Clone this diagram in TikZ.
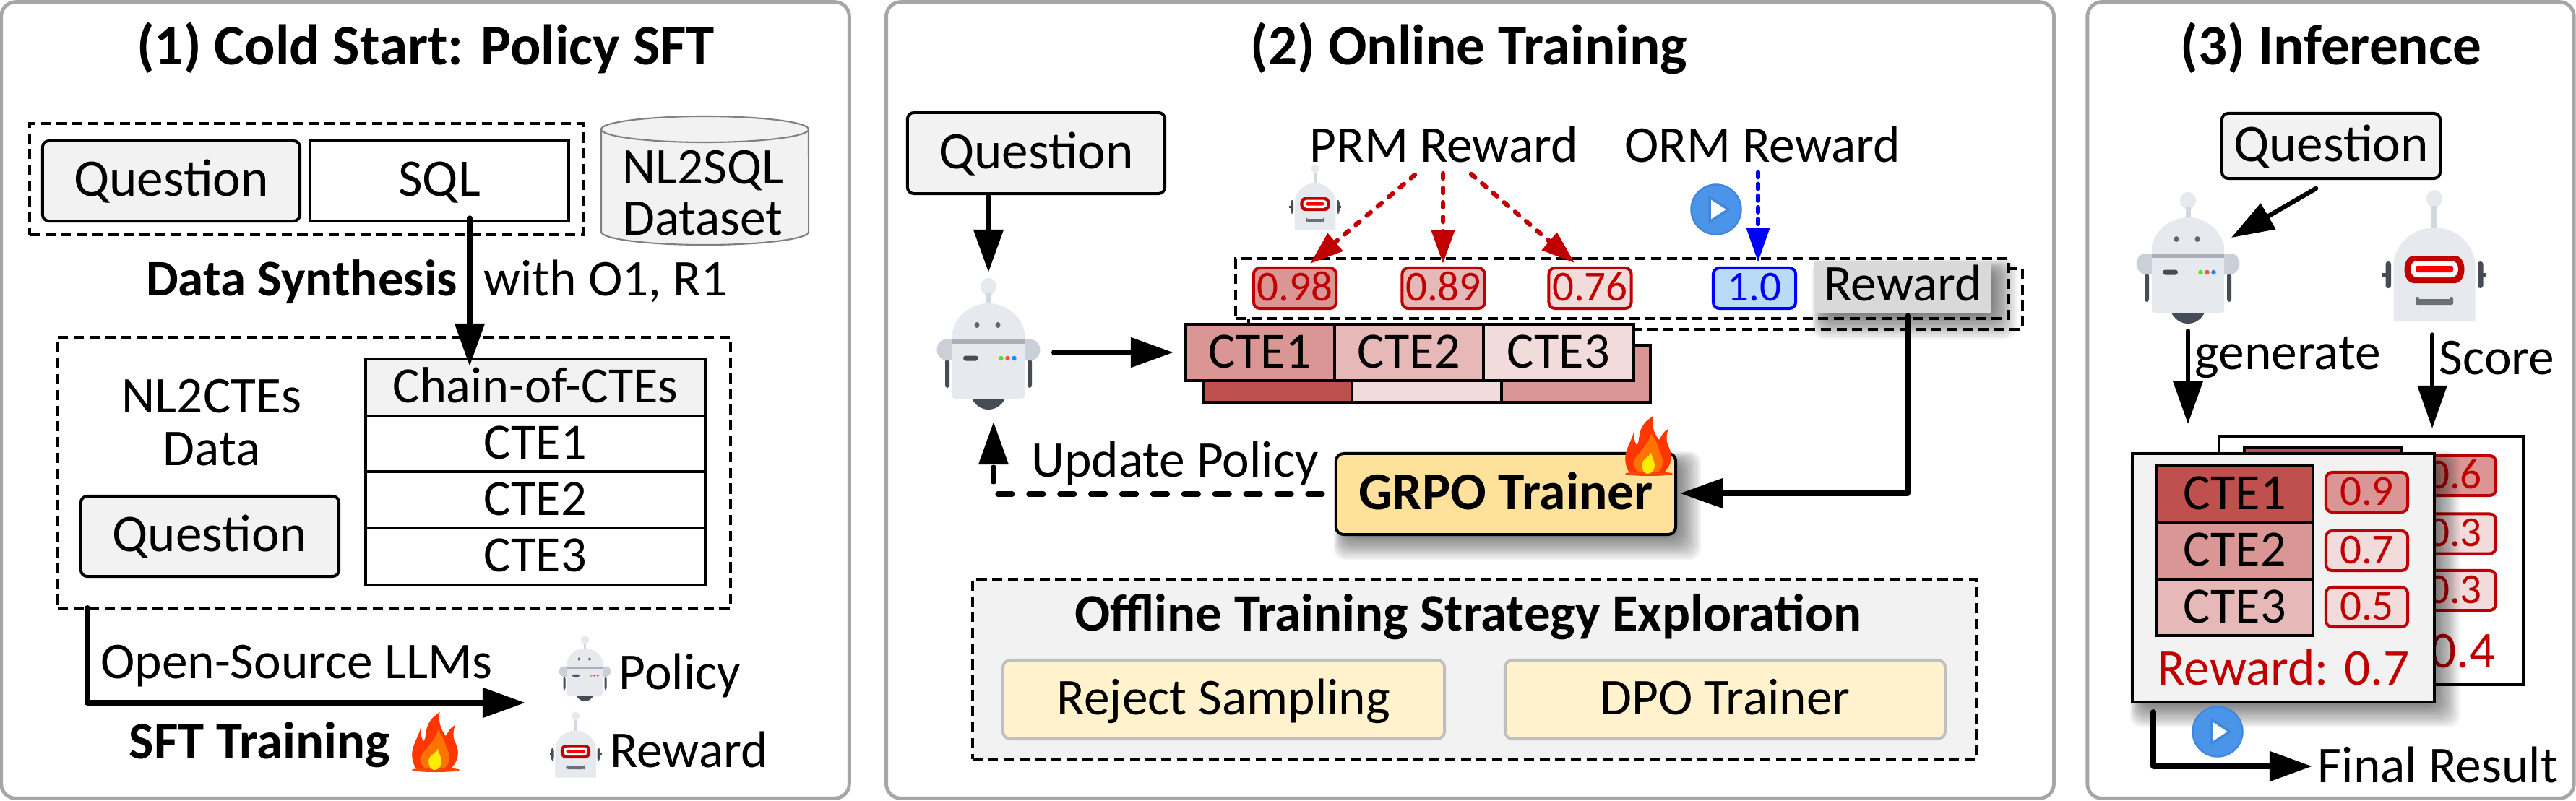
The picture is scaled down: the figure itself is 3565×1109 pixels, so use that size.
\documentclass[tikz,border=0pt]{standalone}
\usepackage{fontspec}
\setmainfont{Carlito}
\usetikzlibrary{arrows.meta}
\definecolor{lg}{HTML}{F2F2F2}
\definecolor{cA}{HTML}{C0504D}
\definecolor{cB}{HTML}{D99694}
\definecolor{cC}{HTML}{E6B9B8}
\definecolor{cD}{HTML}{F2DCDB}
\definecolor{rd}{HTML}{C00000}
\definecolor{rbody}{HTML}{E6E9EE}
\definecolor{rstem}{HTML}{D3D7DE}
\definecolor{rshou}{HTML}{CBCFD8}
\definecolor{rstrip}{HTML}{A9B0BC}
\definecolor{rdark}{HTML}{464C56}
\definecolor{playc}{HTML}{4A95EA}
\definecolor{playd}{HTML}{4187DB}
\definecolor{grpoc}{HTML}{FEE29B}
\definecolor{creamc}{HTML}{FFF2CC}
\definecolor{chipb}{HTML}{B8DCF5}
\newcommand\fsz[1]{\fontsize{#1}{#1}\selectfont}
\newcommand\softshadow[4]{%
  \foreach \e in {35,32,...,2}{%
    \fill[black,opacity=.05,rounded corners=4.5pt]
      ({#1-3+(35-\e)*.5},{#2-3+(35-\e)*.5}) rectangle ({#3+\e},{#4+\e});}}
\newcommand\robotP[3]{%
  \begin{scope}[shift={(#1,#2)},scale=#3]
    \fill[rbody] (0,11.8) ellipse [x radius=.11cm,y radius=.12cm];
    \fill[rstem] (-3.5,21) rectangle (3.5,37);
    \fill[rdark,rounded corners=1pt] (-60,112) rectangle (-54,152);
    \fill[rdark,rounded corners=1pt] (54,112) rectangle (60,152);
    \fill[rshou] (-49,85) -- (-58,85) .. controls (-67,85) and (-71.5,92) .. (-71.5,99) .. controls (-71.5,107) and (-65,114) .. (-58,114) -- (-49,114) -- cycle;
    \fill[rshou] (49,85) -- (58,85) .. controls (67,85) and (71.5,92) .. (71.5,99) .. controls (71.5,107) and (65,114) .. (58,114) -- (49,114) -- cycle;
    \fill[rdark] (-24,165) .. controls (-18,178) and (-8,182) .. (0,182) .. controls (8,182) and (18,178) .. (24,165) -- cycle;
    \fill[rbody] (-50,86) -- (-50,80) .. controls (-50,55) and (-25,35) .. (0,35) .. controls (25,35) and (50,55) .. (50,80) -- (50,86) -- cycle;
    \fill[rbody,rounded corners=1.2pt] (-50,70) rectangle (50,167);
    \fill[rstrip] (-50,85) rectangle (50,91);
    \fill[rdark!85] (-16,65) ellipse [x radius=.035cm,y radius=.04cm];
    \fill[rdark!85] (13,65) ellipse [x radius=.035cm,y radius=.04cm];
    \fill[rdark,rounded corners=1pt] (-35,107.5) rectangle (-14,114.5);
    \fill[green!50!lime!70!gray] (17.5,111) circle [radius=.033cm];
    \fill[red!70!white] (26.5,111) circle [radius=.033cm];
    \fill[blue!50!cyan!90!white] (35.5,111) circle [radius=.033cm];
  \end{scope}}
\newcommand\robotR[3]{%
  \begin{scope}[shift={(#1,#2)},scale=#3]
    \fill[rbody] (0,11) ellipse [x radius=.11cm,y radius=.12cm];
    \fill[rstem] (-4,21) rectangle (4,54);
    \fill[rdark,rounded corners=1pt] (-67.5,98) rectangle (-60,135);
    \fill[rdark,rounded corners=1pt] (60,98) rectangle (67.5,135);
    \fill[rdark] (-72,114) rectangle (-66,120);
    \fill[rdark] (66,114) rectangle (72,120);
    \fill[rbody] (-56.5,181) -- (-56.5,104) .. controls (-56.5,75) and (-30,51) .. (0,51) .. controls (30,51) and (56.5,75) .. (56.5,104) -- (56.5,181) -- cycle;
    \fill[rd] (-28,90) -- (28,90) .. controls (36,90) and (41.5,98) .. (41.5,109) .. controls (41.5,120) and (36,128) .. (28,128) -- (-28,128) .. controls (-36,128) and (-41.5,120) .. (-41.5,109) .. controls (-41.5,98) and (-36,90) .. (-28,90) -- cycle;
    \fill[white!95!gray] (-24,97) -- (24,97) .. controls (29,97) and (33,102) .. (33,108.5) .. controls (33,115) and (29,120) .. (24,120) -- (-24,120) .. controls (-29,120) and (-33,115) .. (-33,108.5) .. controls (-33,102) and (-29,97) .. (-24,97) -- cycle;
    \fill[red,rounded corners=.8pt] (-26,104) rectangle (26,113);
    \fill[rdark!80,rounded corners=1pt] (-26,150) rectangle (26,158);
    \fill[rdark!80,rounded corners=.6pt] (-26,147) rectangle (-21,158);
    \fill[rdark!80,rounded corners=.6pt] (21,147) rectangle (26,158);
  \end{scope}}
\newcommand\flamepic[2]{%
  \begin{scope}[shift={(#1,#2)}]
    \fill[rd!20!orange!70!red] (33,80) ellipse [x radius=.33cm,y radius=.03cm];
    \fill[orange!25!red!90!yellow] (5,77) .. controls (1,70) and (-1,60) .. (1,52) .. controls (3,42) and (9,34) .. (12,22) .. controls (12,30) and (13,36) .. (16,40) .. controls (20,38) and (18,26) .. (23,16) .. controls (27,8) and (33,4) .. (38.6,0) .. controls (37,10) and (38,22) .. (47,33) .. controls (50,28) and (53,21) .. (60,18) .. controls (56,28) and (57,36) .. (61,44) .. controls (66,55) and (65,68) .. (53,79) -- cycle;
    \fill[orange!90!red] (18,77) .. controls (12,72) and (10,66) .. (12,62) .. controls (15,55) and (21,52) .. (24,46) .. controls (30,38) and (35,32) .. (36,24) .. controls (42,34) and (46,40) .. (48,50) .. controls (55,62) and (52,72) .. (46,77) -- cycle;
    \fill[yellow!95!orange] (36,50) .. controls (35,56) and (23,60) .. (23,68) .. controls (23,75) and (27,80) .. (31,80) .. controls (37,80) and (41,75) .. (41,68) .. controls (41,62) and (37,58) .. (36,50) -- cycle;
  \end{scope}}
\newcommand\playbtn[2]{%
  \begin{scope}[shift={(#1,#2)}]
    \fill[fill=playc,draw=playd,line width=.7pt] (0,0) circle [radius=.345cm];
    \draw[fill=white,draw=playd,line width=1pt,line join=miter] (-9,-17) -- (-9,17) -- (17,0) -- cycle;
  \end{scope}}
\tikzset{
  panel/.style={draw=black!35,line width=1.4pt,rounded corners=5.7pt,inner sep=0pt,outer sep=0pt},
  dbox/.style={draw=black,line width=1.14pt,dash pattern=on 4pt off 2.2pt},
  shp/.style={inner sep=0pt,outer sep=0pt,text height=12pt,text depth=0pt},
  qbox/.style={shp,draw=black,fill=lg,line width=1.14pt,rounded corners=2.5pt,font=\fsz{20.8}},
  sbox/.style={shp,draw=black,fill=white,line width=1.14pt,font=\fsz{20.8}},
  tcell/.style={shp,draw=black,line width=1.14pt,font=\fsz{20}},
  chip/.style={shp,text height=10pt,draw=rd,text=rd,line width=1.14pt,rounded corners=2.4pt,font=\fsz{16.8}},
  lbl/.style={anchor=base,inner sep=0pt,outer sep=0pt,font=\fsz{20.3}},
  ttl/.style={anchor=base,inner sep=0pt,outer sep=0pt,font=\fsz{22.5}\bfseries},
  blbl/.style={anchor=base,inner sep=0pt,outer sep=0pt,font=\fsz{20.7}\bfseries},
  arr/.style={draw=black,line width=2.1pt,line cap=round,-{Triangle[length=.59cm,width=.40cm]}},
  arrt/.style={draw=black,line width=2.3pt,line join=round,line cap=round,-{Triangle[length=.59cm,width=.40cm]}},
  reddash/.style={draw=rd,line width=1.8pt,line cap=round,dash pattern=on 2pt off 3.7pt,-{Triangle[length=.46cm,width=.31cm]}},
  bluedash/.style={draw=blue,line width=1.5pt,line cap=round,dash pattern=on 2.2pt off 2.4pt,-{Triangle[length=.47cm,width=.31cm]}},
}
\begin{document}
\begin{tikzpicture}[x=0.01cm,y=-0.01cm]
\useasboundingbox (0,0) rectangle (3565,1109);
\fill[white] (0,0) rectangle (3565,1109);
% ---------- panels
\node[panel,minimum width=11.73cm,minimum height=11.02cm] (p1) at (588.5,554) {};
\node[panel,minimum width=16.15cm,minimum height=11.02cm] (p2) at (2034.5,554) {};
\node[panel,minimum width=6.73cm,minimum height=11.02cm] (p3) at (3225.5,554) {};
\node[ttl] (t1) at (589,89) {(1) Cold Start: Policy SFT};
\node[ttl] (t2) at (2033,90) {(2) Online Training};
\node[ttl] (t3) at (3226,90) {(3) Inference};
% ---------- panel 1
\node[dbox,minimum width=7.66cm,minimum height=1.54cm,inner sep=0pt] (d1) at (424,248) {};
\node[qbox,minimum width=3.56cm,minimum height=1.11cm] (q1) at (237,250.5) {Question};
\node[sbox,minimum width=3.58cm,minimum height=1.11cm] (sql) at (608,250.5) {SQL};
\fill[lg,draw=black!50,line width=.6pt] (832,179) -- (832,321) arc[start angle=180,end angle=360,x radius=1.435cm,y radius=.18cm] -- (1119,179) arc[start angle=0,end angle=180,x radius=1.435cm,y radius=.18cm] -- cycle;
\draw[black!50,line width=.6pt] (832,179) arc[start angle=180,end angle=360,x radius=1.435cm,y radius=.18cm];
\node[lbl] (ds1) at (973,254) {NL2SQL};
\node[lbl] (ds2) at (973,325) {Dataset};
\node[blbl,font=\fsz{20.2}\bfseries] (ds) at (417.5,409) {Data Synthesis};
\node[lbl] (wo) at (838,409) {with O1, R1};
\node[dbox,minimum width=9.31cm,minimum height=3.75cm,inner sep=0pt] (d2) at (545.5,654.5) {};
\node[tcell,fill=lg,minimum width=4.70cm,minimum height=.79cm] (th) at (741,536.5) {Chain-of-CTEs};
\node[tcell,fill=white,minimum width=4.70cm,minimum height=.77cm] (tr1) at (741,614.5) {CTE1};
\node[tcell,fill=white,minimum width=4.70cm,minimum height=.78cm] (tr2) at (741,692) {CTE2};
\node[tcell,fill=white,minimum width=4.70cm,minimum height=.79cm] (tr3) at (741,770.5) {CTE3};
\node[lbl] (nc1) at (293,571) {NL2CTEs};
\node[lbl] (nc2) at (293,644) {Data};
\node[qbox,minimum width=3.57cm,minimum height=1.11cm] (q2) at (290.5,742.5) {Question};
\coordinate (a1s) at (650,302);
\coordinate (a1e) at (650,507);
\draw[arr] (a1s) -- (a1e);
\coordinate (a2s) at (121,842);
\coordinate (a2m) at (121,973);
\coordinate (a2e) at (727,973);
\draw[arrt] (a2s) -- (a2m) -- (a2e);
\node[lbl] (os) at (410.5,939) {Open-Source LLMs};
\node[blbl] (sft) at (359.5,1050) {SFT Training};
\flamepic{570}{986}
\robotP{809.5}{880}{.5}
\node[lbl] (pol) at (941,954) {Policy};
\robotR{796.5}{986}{.5}
\node[lbl] (rew) at (953.5,1062) {Reward};
% ---------- panel 2
\node[qbox,minimum width=3.56cm,minimum height=1.12cm] (q3) at (1434,212) {Question};
\robotP{1368}{385}{1}
\coordinate (a3s) at (1368,273);
\coordinate (a3e) at (1368,377);
\draw[arr] (a3s) -- (a3e);
\softshadow{2511}{362}{2756}{434}
\coordinate (b2a) at (1728,441);
\coordinate (b2b) at (1728,456);
\coordinate (b2c) at (2799,456);
\coordinate (b2d) at (2799,372);
\coordinate (b2e) at (2780,372);
\draw[dbox] (b2a) -- (b2b) -- (b2c) -- (b2d) -- (b2e);
\node[dbox,minimum width=10.70cm,minimum height=.83cm,inner sep=0pt] (d3) at (2245,399.5) {};
\node[tcell,fill=cA,minimum width=2.06cm,minimum height=.79cm] (k1) at (1768,517.5) {};
\node[tcell,fill=cD,minimum width=2.07cm,minimum height=.79cm] (k2) at (1974.5,517.5) {};
\node[tcell,fill=cB,minimum width=2.06cm,minimum height=.79cm] (k3) at (2181,517.5) {};
\node[tcell,fill=cB,minimum width=2.06cm,minimum height=.78cm] (c1) at (1744,488) {CTE1};
\node[tcell,fill=cC,minimum width=2.06cm,minimum height=.78cm] (c2) at (1950,488) {CTE2};
\node[tcell,fill=cD,minimum width=2.08cm,minimum height=.78cm] (c3) at (2157,488) {CTE3};
\node[chip,fill=cB,minimum width=1.14cm,minimum height=.56cm] (s1) at (1792,399) {0.98};
\node[chip,fill=cC,minimum width=1.14cm,minimum height=.56cm] (s2) at (1997.5,399) {0.89};
\node[chip,fill=cD,minimum width=1.14cm,minimum height=.56cm] (s3) at (2200.5,399) {0.76};
\node[chip,draw=blue,text=blue,fill=chipb,minimum width=1.14cm,minimum height=.56cm] (s4) at (2428,399) {1.0};
\node[shp,text height=10.5pt,fill=black!15,font=\fsz{20.3},minimum width=2.45cm,minimum height=.72cm] (rw) at (2633.5,398) {Reward};
\node[lbl] (prm) at (1998,224) {PRM Reward};
\node[lbl] (orm) at (2439,224) {ORM Reward};
\robotR{1820}{228}{.5}
\playbtn{2375}{290}
\coordinate (r1a) at (1958,242);
\coordinate (r1b) at (1813,365);
\coordinate (r2a) at (1997,240);
\coordinate (r2b) at (1997,365);
\coordinate (r3a) at (2036,241);
\coordinate (r3b) at (2179,364);
\draw[reddash] (r1a) -- (r1b);
\draw[reddash] (r2a) -- (r2b);
\draw[reddash] (r3a) -- (r3b);
\coordinate (ba) at (2433,238);
\coordinate (bb) at (2433,363);
\draw[bluedash] (ba) -- (bb);
\coordinate (rbs) at (1459,488);
\coordinate (rbe) at (1624,488);
\draw[arrt] (rbs) -- (rbe);
\softshadow{1849}{628}{2319}{740}
\node[shp,draw=black,fill=grpoc,line width=1.14pt,rounded corners=3pt,font=\fsz{20.9}\bfseries,minimum width=4.70cm,minimum height=1.12cm] (gr) at (2084,684) {GRPO Trainer};
\flamepic{2249}{576}
\coordinate (u0) at (1830,684);
\coordinate (u1) at (1375,684);
\coordinate (u2) at (1375,584);
\draw[draw=black,line width=2pt,line cap=round,dash pattern=on 5.7pt off 6.5pt,-{Triangle[length=.59cm,width=.40cm]}] (u0) -- (u1) -- (u2);
\node[lbl] (up) at (1626,660) {Update Policy};
\coordinate (w0) at (2640,437);
\coordinate (w1) at (2640,683);
\coordinate (w2) at (2325,683);
\draw[arrt,line width=2pt] (w0) -- (w1) -- (w2);
\node[dbox,fill=lg,minimum width=13.89cm,minimum height=2.49cm,inner sep=0pt] (off) at (2040.5,926.5) {};
\node[blbl] (oft) at (2032,873) {Offline Training Strategy Exploration};
\node[shp,draw=black!25,fill=creamc,line width=1.14pt,rounded corners=3pt,font=\fsz{20.3},minimum width=6.11cm,minimum height=1.09cm] (rj) at (1693.5,968.5) {Reject Sampling};
\node[shp,draw=black!25,fill=creamc,line width=1.14pt,rounded corners=3pt,font=\fsz{20.3},minimum width=6.09cm,minimum height=1.09cm] (dp) at (2387.5,968.5) {DPO Trainer};
% ---------- panel 3
\node[qbox,minimum width=3.02cm,minimum height=.90cm] (q4) at (3226,202) {Question};
\robotP{3028}{266}{1}
\robotR{3369}{264}{1}
\coordinate (i0) at (3205,261);
\coordinate (i1) at (3088,329);
\draw[arr,line width=1.8pt] (i0) -- (i1);
\coordinate (g0) at (3028,458);
\coordinate (g1) at (3028,587);
\draw[arr,line width=1.8pt] (g0) -- (g1);
\coordinate (h0) at (3366,463);
\coordinate (h1) at (3366,593);
\draw[arr,line width=1.5pt] (h0) -- (h1);
\node[lbl] (gen) at (3166,511) {generate};
\node[lbl] (sco) at (3455.5,518) {Score};
% back card
\node[shp,draw=black,fill=white,line width=1.14pt,minimum width=4.21cm,minimum height=3.44cm] (bk) at (3281.5,776) {};
\node[tcell,fill=cA,minimum width=2.17cm,minimum height=.4cm] (bt) at (3214.5,641) {};
\node[chip,fill=cB,minimum width=1.13cm,minimum height=.55cm] (b1) at (3397.5,658.5) {0.6};
\node[chip,fill=cD,minimum width=1.13cm,minimum height=.55cm] (b2) at (3397.5,739) {0.3};
\node[chip,fill=cD,minimum width=1.13cm,minimum height=.55cm] (b3) at (3397.5,817.5) {0.3};
\node[lbl,anchor=base east,text=rd] (bl) at (3454,924) {0.4};
% front card
\softshadow{2951}{628}{3369}{972}
\node[shp,draw=black,fill=lg,line width=1.14pt,minimum width=4.18cm,minimum height=3.44cm] (fr) at (3160,800) {};
\node[tcell,fill=cA,minimum width=2.16cm,minimum height=.78cm] (f1) at (3093,684) {CTE1};
\node[tcell,fill=cB,minimum width=2.16cm,minimum height=.79cm] (f2) at (3093,762.5) {CTE2};
\node[tcell,fill=cC,minimum width=2.16cm,minimum height=.78cm] (f3) at (3093,841) {CTE3};
\node[chip,fill=cB,minimum width=1.13cm,minimum height=.55cm] (g9) at (3275.5,681.5) {0.9};
\node[chip,fill=cD,minimum width=1.13cm,minimum height=.55cm] (g7) at (3275.5,762.5) {0.7};
\node[chip,fill=cD,minimum width=1.13cm,minimum height=.55cm] (g5) at (3275.5,840.5) {0.5};
\node[lbl,text=rd] (fl) at (3160,948) {Reward: 0.7};
\playbtn{3069}{1013}
\coordinate (e0) at (2980,986);
\coordinate (e1) at (2980,1061);
\coordinate (e2) at (3200,1061);
\draw[arrt] (e0) -- (e1) -- (e2);
\node[lbl] (fin) at (3374,1083) {Final Result};
\end{tikzpicture}
\end{document}
